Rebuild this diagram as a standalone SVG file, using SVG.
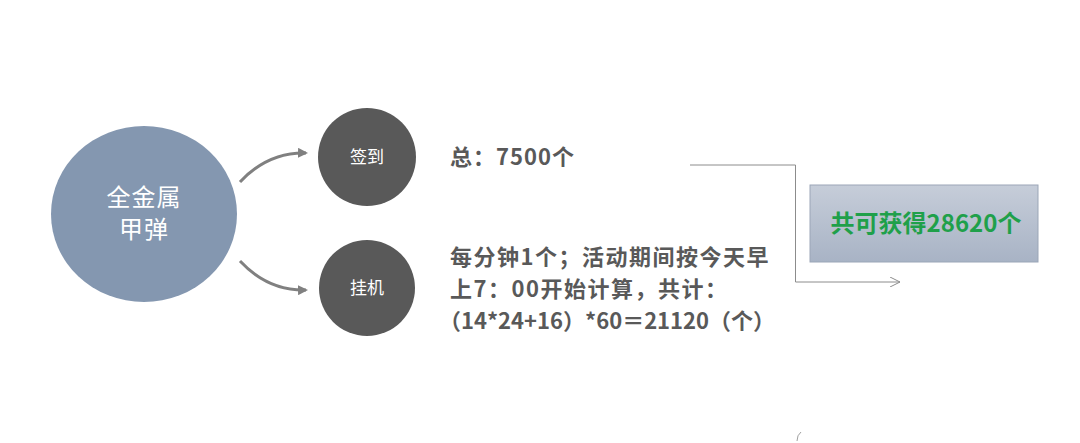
<svg xmlns="http://www.w3.org/2000/svg" width="1080" height="443" viewBox="0 0 1080 443">
<style>
.cjk{font-family:"Noto Sans CJK SC","Liberation Sans",sans-serif}
.wt{fill:#ffffff}
.body{font-size:22px;font-weight:bold;fill:#595959}
.arc{fill:none;stroke:#808080;stroke-width:3}
.link{fill:none;stroke:#8c8c8c;stroke-width:1}
</style>
<defs>
<marker id="ah" markerWidth="10" markerHeight="10" refX="8" refY="5" orient="auto" markerUnits="userSpaceOnUse">
<path d="M0,0 L10,5 L0,10 Z" fill="#808080"/>
</marker>
<marker id="open" markerWidth="12" markerHeight="10" refX="10" refY="5" orient="auto" markerUnits="userSpaceOnUse">
<path d="M0,0 L10,5 L0,10" fill="none" stroke="#8c8c8c" stroke-width="1"/>
</marker>
<linearGradient id="boxg" x1="0" y1="0" x2="0" y2="1">
<stop offset="0" stop-color="#c6cdd9"/>
<stop offset="1" stop-color="#a8b3c5"/>
</linearGradient>
</defs>
<rect width="1080" height="443" fill="#ffffff"/>
<g id="connectors">
<path class="arc" d="M240,182 Q268,152 306,153" marker-end="url(#ah)"/>
<path class="arc" d="M240,261 Q268,291 306,290" marker-end="url(#ah)"/>
<path class="link" d="M690,165 H795.5 V282 H900" marker-end="url(#open)"/>
</g>
<g id="node-main">
<ellipse cx="144" cy="214" rx="93" ry="88" fill="#8497b0"/>
<text class="cjk wt" font-size="24" letter-spacing="1" text-anchor="middle"><tspan x="144" y="206">全金属</tspan><tspan x="144" y="238">甲弹</tspan></text>
</g>
<g id="node-qiandao">
<circle cx="367" cy="157" r="49" fill="#595959"/>
<text class="cjk wt" x="367" y="163" font-size="17" text-anchor="middle">签到</text>
</g>
<g id="node-guaji">
<circle cx="367" cy="288" r="48" fill="#595959"/>
<text class="cjk wt" x="367" y="294" font-size="17" text-anchor="middle">挂机</text>
</g>
<g id="text-qiandao">
<text class="cjk body" x="450" y="165" letter-spacing="1">总：7500个</text>
</g>
<g id="text-guaji">
<text class="cjk body" x="450" y="265" letter-spacing="1.5">每分钟1个；活动期间按今天早</text>
<text class="cjk body" x="450" y="297" letter-spacing="1.5">上7：00开始计算，共计：</text>
<text class="cjk body" x="439" y="329">（14*24+16）*60＝21120（个）</text>
</g>
<g id="node-total">
<rect x="810" y="185" width="228" height="77" fill="url(#boxg)" stroke="#9ba6b7" stroke-width="1"/>
<text class="cjk" x="926" y="232" font-size="24" font-weight="bold" fill="#1fa04a" text-anchor="middle">共可获得28620个</text>
</g>
<path d="M797,441 Q797,435 801,432" fill="none" stroke="#a0a0a0" stroke-width="1"/>
</svg>
